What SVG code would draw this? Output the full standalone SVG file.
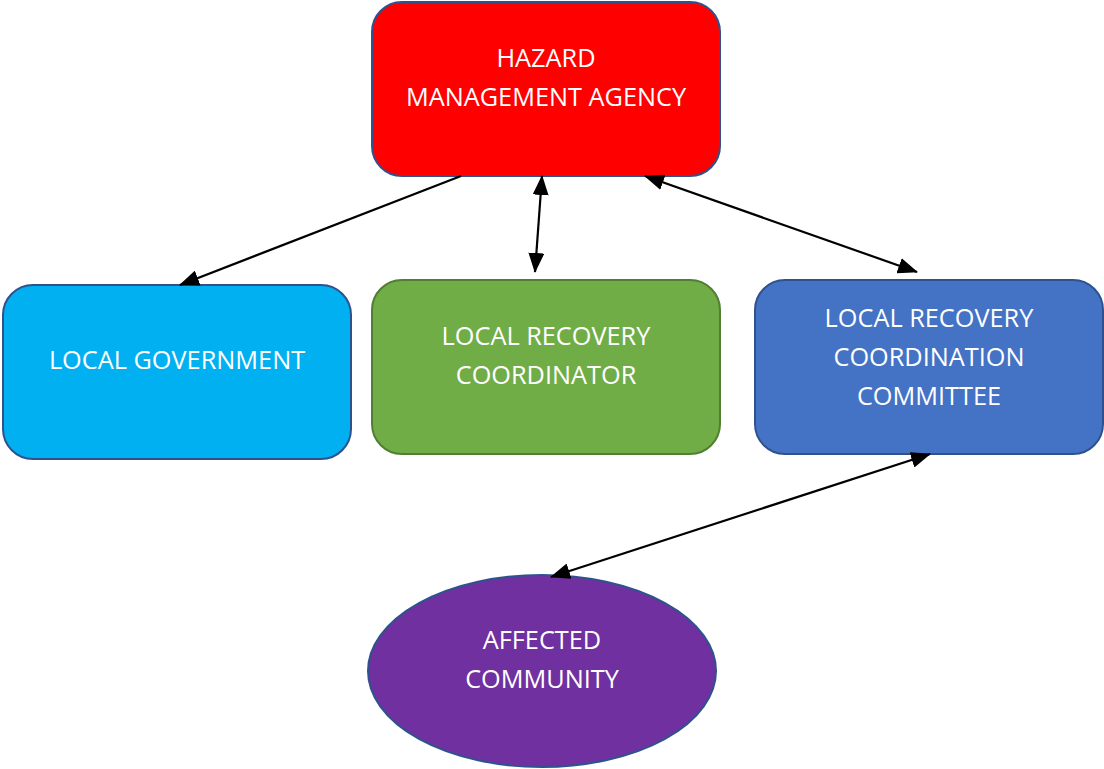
<svg xmlns="http://www.w3.org/2000/svg" width="1104" height="769" viewBox="0 0 1104 769">
<defs>
<marker id="ah" viewBox="0 0 20 16" refX="19" refY="8" markerWidth="20" markerHeight="16" orient="auto-start-reverse" markerUnits="userSpaceOnUse">
<path d="M0,0 L20,8 L0,16 Z" fill="#000"/>
</marker>
<style>
.node{stroke:#2F528F;stroke-width:2}
.lbl{font-family:"Open Sans","Liberation Sans",sans-serif;font-size:25.3px;fill:#fff;text-anchor:middle}
.conn{stroke:#000;stroke-width:2.2;fill:none}
</style>
</defs>
<rect width="1104" height="769" fill="#fff"/>
<g id="hazard">
<rect class="node" x="372" y="2" width="348" height="174" rx="30" fill="#FF0000"/>
<text class="lbl" x="546" y="67">HAZARD</text>
<text class="lbl" x="546" y="106">MANAGEMENT AGENCY</text>
</g>
<g id="localgov">
<rect class="node" x="3" y="285" width="348" height="174" rx="30" fill="#00B0F0"/>
<text class="lbl" x="177" y="369">LOCAL GOVERNMENT</text>
</g>
<g id="coordinator">
<rect x="372" y="280" width="348" height="174" rx="30" fill="#70AD47" stroke="#507E32" stroke-width="2"/>
<text class="lbl" x="546" y="345">LOCAL RECOVERY</text>
<text class="lbl" x="546" y="384">COORDINATOR</text>
</g>
<g id="committee">
<rect class="node" x="755" y="280" width="348" height="174" rx="30" fill="#4472C4"/>
<text class="lbl" x="929" y="327">LOCAL RECOVERY</text>
<text class="lbl" x="929" y="366">COORDINATION</text>
<text class="lbl" x="929" y="405">COMMITTEE</text>
</g>
<g id="community">
<ellipse class="node" cx="542" cy="671" rx="174" ry="96" fill="#7030A0"/>
<text class="lbl" x="542" y="649">AFFECTED</text>
<text class="lbl" x="542" y="688">COMMUNITY</text>
</g>
<g id="connectors">
<line class="conn" x1="461" y1="176" x2="180" y2="285" marker-end="url(#ah)"/>
<line class="conn" x1="542" y1="176" x2="535" y2="272" marker-start="url(#ah)" marker-end="url(#ah)"/>
<line class="conn" x1="645" y1="176" x2="917" y2="272" marker-start="url(#ah)" marker-end="url(#ah)"/>
<line class="conn" x1="930" y1="454" x2="551" y2="577" marker-start="url(#ah)" marker-end="url(#ah)"/>
</g>
</svg>
